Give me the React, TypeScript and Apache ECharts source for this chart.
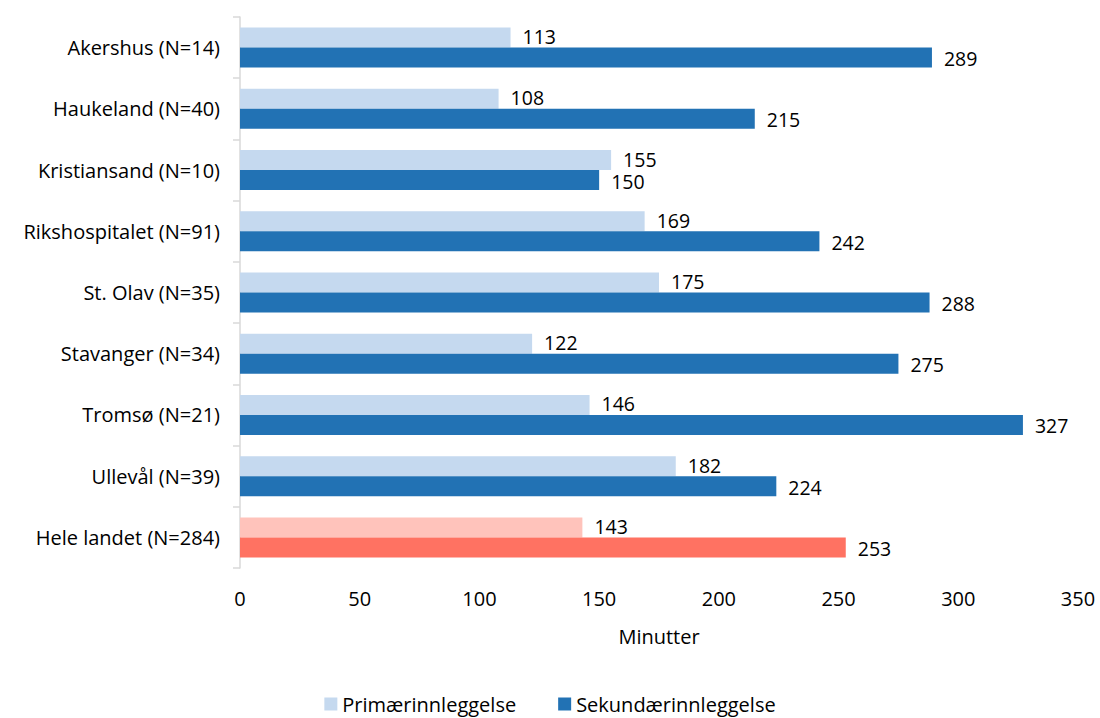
import React, { useEffect, useRef } from "react";
import * as echarts from "echarts";

const categories = [
  "Akershus (N=14)",
  "Haukeland (N=40)",
  "Kristiansand (N=10)",
  "Rikshospitalet (N=91)",
  "St. Olav (N=35)",
  "Stavanger (N=34)",
  "Tromsø (N=21)",
  "Ullevål (N=39)",
  "Hele landet (N=284)",
];
const primaer = [113, 108, 155, 169, 175, 122, 146, 182, 143];
const sekundaer = [289, 215, 150, 242, 288, 275, 327, 224, 253];
const xTicks = [0, 50, 100, 150, 200, 250, 300, 350];

const FONT = "'Open Sans', 'Noto Sans', sans-serif";
const FS = 20;
const LIGHT_BLUE = "#c5d9ef";
const DARK_BLUE = "#2272b4";
const LIGHT_RED = "#ffc3bb";
const RED = "#ff7262";
const totalIndex = categories.length - 1;

const valueLabel = (dy: number) => ({
  show: true,
  position: "right" as const,
  distance: 12,
  offset: [0, dy],
  color: "#000",
  fontSize: 19.5,
  lineHeight: 16,
  fontFamily: FONT,
});

export default function App() {
  const ref = useRef<HTMLDivElement>(null);
  useEffect(() => {
    if (!ref.current) return;
    document.body.style.margin = "0";
    const chart = echarts.init(ref.current, undefined, { renderer: "svg" });
    chart.setOption({
      animation: false,
      textStyle: { fontFamily: FONT },
      grid: {
        left: 240,
        right: 22,
        top: 17,
        bottom: 150,
        containLabel: false,
        outerBoundsMode: "none",
      },
      legend: {
        bottom: 4,
        left: "center",
        padding: 0,
        itemWidth: 13,
        itemHeight: 13,
        itemGap: 42,
        icon: "rect",
        textStyle: { fontSize: FS, lineHeight: 20, color: "#000", fontFamily: FONT },
        data: ["Primærinnleggelse", "Sekundærinnleggelse"],
      },
      xAxis: {
        type: "value",
        min: xTicks[0],
        max: xTicks[xTicks.length - 1],
        interval: 50,
        name: "Minutter",
        nameLocation: "middle",
        nameGap: 58,
        nameTextStyle: { fontSize: FS, color: "#000", fontFamily: FONT },
        axisLine: { show: false },
        axisTick: { show: false },
        splitLine: { show: false },
        axisLabel: { fontSize: FS, color: "#000", margin: 20, fontFamily: FONT },
      },
      yAxis: {
        type: "category",
        inverse: true,
        data: categories,
        axisLine: { show: true, lineStyle: { color: "#d9d9d9", width: 1.5 } },
        axisTick: { show: true, length: 7, lineStyle: { color: "#d9d9d9", width: 1.5 } },
        axisLabel: { fontSize: FS, color: "#000", margin: 20, fontFamily: FONT },
      },
      series: [
        {
          name: "Primærinnleggelse",
          type: "bar",
          barWidth: 20,
          barGap: "0%",
          itemStyle: { color: LIGHT_BLUE },
          label: valueLabel(-1),
          data: primaer.map((v, i) =>
            i === totalIndex ? { value: v, itemStyle: { color: LIGHT_RED } } : v
          ),
        },
        {
          name: "Sekundærinnleggelse",
          type: "bar",
          barWidth: 20,
          barGap: "0%",
          itemStyle: { color: DARK_BLUE },
          label: valueLabel(1),
          data: sekundaer.map((v, i) =>
            i === totalIndex ? { value: v, itemStyle: { color: RED } } : v
          ),
        },
      ],
    });
    return () => chart.dispose();
  }, []);
  return <div ref={ref} style={{ width: 1100, height: 718 }} />;
}
